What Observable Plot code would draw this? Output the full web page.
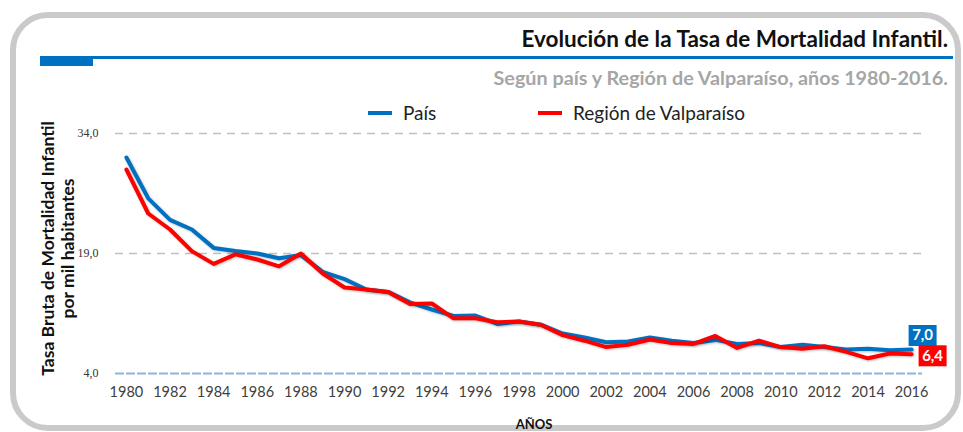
<!DOCTYPE html>
<html>
<head>
<meta charset="utf-8">
<script src="https://cdn.jsdelivr.net/npm/d3@7"></script>
<script src="https://cdn.jsdelivr.net/npm/@observablehq/plot@0.6"></script>
<style>
  html, body { margin: 0; padding: 0; background: #fff; }
  #page { position: relative; width: 963px; height: 432px; overflow: hidden; font-family: Lato, "Open Sans", sans-serif; }
  #frame { position: absolute; left: 10px; top: 12px; width: 939px; height: 407px; border: 6px solid #cacaca; border-radius: 38px; }
  #title { position: absolute; right: 15px; top: 26px; font-size: 22.5px; font-weight: 700; color: #111; line-height: 26px; white-space: nowrap; }
  #rule { position: absolute; left: 40px; top: 56px; width: 913px; height: 3px; background: #0070c0; }
  #block { position: absolute; left: 40px; top: 56px; width: 53px; height: 10px; background: #0070c0; }
  #subtitle { position: absolute; right: 15px; top: 65px; font-size: 19.8px; font-weight: 700; color: #a6a6a6; line-height: 24px; white-space: nowrap; }
  .leg { position: absolute; top: 101px; font-size: 19px; color: #222; line-height: 24px; white-space: nowrap; display: flex; align-items: center; }
  .sw { display: inline-block; width: 24px; height: 4px; margin-right: 11px; }
  #chart { position: absolute; left: 0; top: 120px; }
  #chart svg g[aria-label="line"] path { filter: drop-shadow(1px 1.5px 1px rgba(0,0,0,0.25)); }
</style>
</head>
<body>
<div id="page">
  <div id="frame"></div>
  <div id="title"></div>
  <div id="rule"></div>
  <div id="block"></div>
  <div id="subtitle"></div>
  <div class="leg" id="leg1" style="left:368px"><span class="sw" style="background:#0070c0"></span><span></span></div>
  <div class="leg" id="leg2" style="left:538px"><span class="sw" style="background:#ff0000"></span><span></span></div>
  <div id="chart"></div>
</div>
<script>
const titleText = "Evolución de la Tasa de Mortalidad Infantil.";
const subtitleText = "Según país y Región de Valparaíso, años 1980-2016.";
const yAxisTitle = "Tasa Bruta de Mortalidad Infantil\npor mil habitantes";
const xAxisTitle = "AÑOS";
const seriesNames = ["País", "Región de Valparaíso"];
const seriesColors = ["#0070c0", "#ff0000"];

const years = [1980, 1981, 1982, 1983, 1984, 1985, 1986, 1987, 1988, 1989,
               1990, 1991, 1992, 1993, 1994, 1995, 1996, 1997, 1998, 1999,
               2000, 2001, 2002, 2003, 2004, 2005, 2006, 2007, 2008, 2009,
               2010, 2011, 2012, 2013, 2014, 2015, 2016];
const pais = [31.0, 25.9, 23.2, 22.0, 19.7, 19.3, 19.0, 18.4, 18.8, 16.7,
              15.8, 14.5, 14.2, 12.9, 12.0, 11.2, 11.25, 10.2, 10.5, 10.1,
              9.0, 8.5, 7.9, 8.0, 8.5, 8.1, 7.8, 8.2, 7.7, 7.8,
              7.3, 7.6, 7.3, 7.0, 7.1, 6.9, 7.0];
const region = [29.5, 24.0, 22.0, 19.3, 17.7, 18.9, 18.25, 17.4, 19.0, 16.5,
                14.75, 14.5, 14.2, 12.7, 12.75, 10.9, 10.9, 10.4, 10.5, 10.1,
                8.8, 8.1, 7.3, 7.6, 8.25, 7.8, 7.7, 8.7, 7.2, 8.1,
                7.3, 7.1, 7.4, 6.7, 5.9, 6.5, 6.4];
const yTicks = [4, 19, 34];
const gridTicks = [19, 34];
const xTicks = [1980, 1982, 1984, 1986, 1988, 1990, 1992, 1994, 1996, 1998,
                2000, 2002, 2004, 2006, 2008, 2010, 2012, 2014, 2016];

document.getElementById("title").textContent = titleText;
document.getElementById("subtitle").textContent = subtitleText;
document.querySelector("#leg1 span:last-child").textContent = seriesNames[0];
document.querySelector("#leg2 span:last-child").textContent = seriesNames[1];

const data = [
  ...years.map((year, i) => ({year, value: pais[i], series: seriesNames[0]})),
  ...years.map((year, i) => ({year, value: region[i], series: seriesNames[1]}))
];
const last = seriesNames.map(s => data.filter(d => d.series === s).at(-1));
const comma = v => v.toFixed(1).replace(".", ",");
const boxSymbol = { draw(ctx) { ctx.rect(-14, -10.5, 28, 21); } };

const chart = Plot.plot({
  width: 963,
  height: 312,
  marginLeft: 115,
  marginRight: 41,
  marginTop: 7,
  marginBottom: 59,
  style: { fontFamily: "Lato, sans-serif", background: "transparent" },
  x: { domain: [1979.5, 2016.5] },
  y: { domain: [4, 34.75] },
  color: { domain: seriesNames, range: seriesColors },
  marks: [
    Plot.ruleY(gridTicks, { stroke: "#c0c0c0", strokeWidth: 1.5, strokeDasharray: "8,6" }),
    Plot.ruleY([4], { stroke: "#8fb4d9", strokeWidth: 2, strokeDasharray: "9,2" }),
    Plot.axisY({ ticks: yTicks, tickSize: 0, tickPadding: 17, tickFormat: comma, line: true, stroke: "#9dc3e6",
                 fontFamily: "Liberation Serif, serif", fontSize: 12, fill: "#333", label: null }),
    Plot.axisX({ ticks: xTicks, tickSize: 0, tickPadding: 13, tickFormat: d => String(d),
                 fontSize: 14.5, fill: "#404040", label: null }),
    Plot.text([yAxisTitle], { frameAnchor: "left", dx: -58, dy: -2, rotate: -90, fontWeight: "bold", fontSize: 17.5,
                 fill: "#111", lineHeight: 1.13, textAnchor: "middle" }),
    Plot.text([xAxisTitle], { frameAnchor: "bottom", dx: 15, dy: 55, fontWeight: "bold", fontSize: 13, fill: "#111" }),
    Plot.line(data, { x: "year", y: "value", z: "series", stroke: "series", strokeWidth: 4, strokeLinejoin: "round" }),
    Plot.dot([last[0]], { x: "year", y: "value", dx: 11, dy: -14, symbol: boxSymbol, fill: seriesColors[0], stroke: null }),
    Plot.text([last[0]], { x: "year", y: "value", dx: 11, dy: -14, text: d => comma(d.value), fill: "white", fontWeight: "bold", fontSize: 15 }),
    Plot.dot([last[1]], { x: "year", y: "value", dx: 21, dy: 1.5, symbol: boxSymbol, fill: seriesColors[1], stroke: null }),
    Plot.text([last[1]], { x: "year", y: "value", dx: 21, dy: 1.5, text: d => comma(d.value), fill: "white", fontWeight: "bold", fontSize: 15 })
  ]
});
document.getElementById("chart").appendChild(chart);
</script>
</body>
</html>
